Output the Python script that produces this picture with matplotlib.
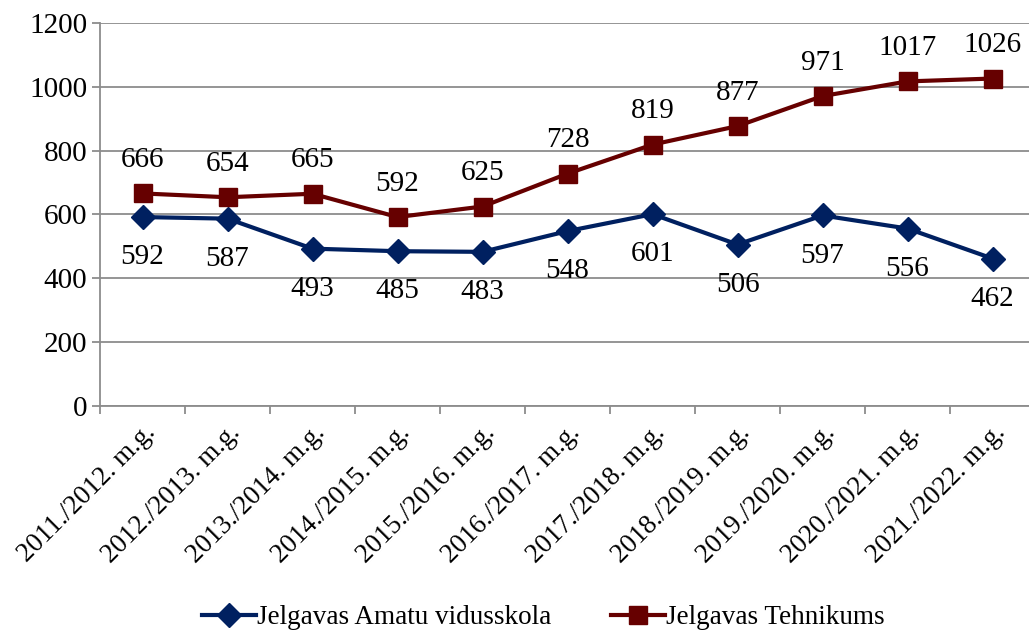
import matplotlib
matplotlib.use("Agg")
import matplotlib.pyplot as plt

# school years
years = ["2011./2012. m.g.", "2012./2013. m.g.", "2013./2014. m.g.", "2014./2015. m.g.",
         "2015./2016. m.g.", "2016./2017. m.g.", "2017./2018. m.g.", "2018./2019. m.g.",
         "2019./2020. m.g.", "2020./2021. m.g.", "2021./2022. m.g."]
amatu = [592, 587, 493, 485, 483, 548, 601, 506, 597, 556, 462]
tehnikums = [666, 654, 665, 592, 625, 728, 819, 877, 971, 1017, 1026]

blue = "#002060"
red = "#660000"
grey = "#8c8c8c"

plt.rcParams["font.family"] = ["Liberation Serif", "DejaVu Serif"]

fig = plt.figure(figsize=(10.29, 6.32), dpi=100)
ax = fig.add_axes([100 / 1029, 1 - 406 / 632, 935 / 1029, 383 / 632])

x = list(range(len(years)))
ax.plot(x, amatu, color=blue, lw=3, marker="D", ms=12, label="Jelgavas Amatu vidusskola", zorder=3)
ax.plot(x, tehnikums, color=red, lw=3, marker="s", ms=13, label="Jelgavas Tehnikums", zorder=3)

for i, v in enumerate(amatu):
    ax.annotate(str(v), (i, v), xytext=(0, -29), textcoords="offset points",
                ha="center", va="center", fontsize=21)
for i, v in enumerate(tehnikums):
    ax.annotate(str(v), (i, v), xytext=(0, 24), textcoords="offset points",
                ha="center", va="center", fontsize=21)

ax.set_xlim(-0.5, len(years) - 0.5)
ax.set_ylim(0, 1200)
ax.set_yticks(range(0, 1201, 200))
ax.yaxis.grid(True, color=grey, lw=1.3)
ax.set_axisbelow(True)

ax.set_xticks([i + 0.5 for i in range(-1, len(years))])
ax.set_xticklabels([])
ax.set_xticks(x, minor=True)
ax.set_xticklabels(years, minor=True, rotation=45, ha="right", va="top",
                   rotation_mode="anchor", fontsize=19.5)
ax.tick_params(axis="x", which="minor", length=0, pad=10)
ax.tick_params(axis="x", which="major", length=6, color=grey, width=1.3)
ax.tick_params(axis="y", length=6, color=grey, width=1.3, labelsize=21, pad=3)

for s in ["top", "right"]:
    ax.spines[s].set_visible(False)
for s in ["left", "bottom"]:
    ax.spines[s].set_color(grey)
    ax.spines[s].set_linewidth(1.3)

fig.legend(loc="center", bbox_to_anchor=(0.528, 1 - 618 / 632), ncol=2, frameon=False,
           fontsize=19.5, handlelength=2.0, handletextpad=0.05, columnspacing=2.2)

fig.savefig("out.png", dpi=100)
